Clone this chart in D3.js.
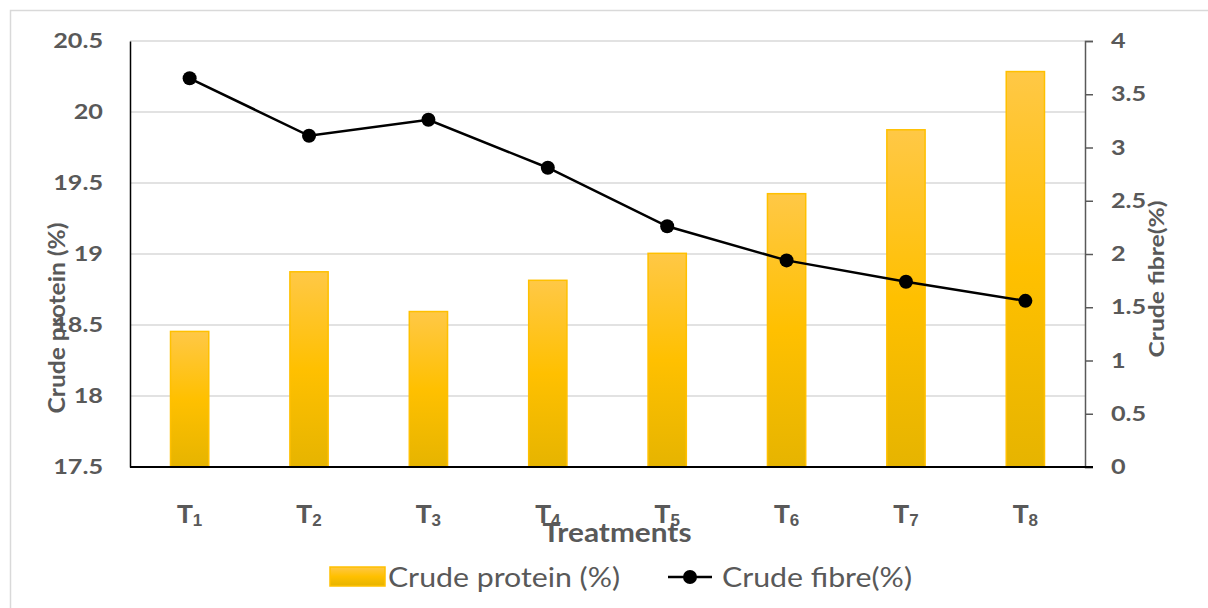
<!DOCTYPE html>
<html><head><meta charset="utf-8">
<script src="https://cdn.jsdelivr.net/npm/d3@7/dist/d3.min.js"></script>
<style>body{margin:0;background:#fff}svg{display:block;font-family:Lato,"Open Sans",sans-serif}</style>
</head><body>
<script>
const categories = ["1","2","3","4","5","6","7","8"];
const crudeProtein = [18.46, 18.88, 18.60, 18.82, 19.01, 19.43, 19.88, 20.29];
const crudeFibre = [3.65, 3.11, 3.26, 2.81, 2.26, 1.94, 1.74, 1.56];
const leftTicks = [17.5, 18, 18.5, 19, 19.5, 20, 20.5];
const rightTicks = [0, 0.5, 1, 1.5, 2, 2.5, 3, 3.5, 4];

const W = 1208, H = 608;
const m = {left:130, right:1085, top:41, bottom:467};
const svg = d3.select("body").append("svg").attr("width",W).attr("height",H);

function stretch(sel, f){
  sel.each(function(){
    const L = this.getComputedTextLength();
    d3.select(this).attr("textLength", L*f).attr("lengthAdjust","spacingAndGlyphs");
  });
}
function fitTo(sel, w){
  sel.attr("textLength", w).attr("lengthAdjust","spacingAndGlyphs");
}

svg.append("rect").attr("x",10.5).attr("y",10.5).attr("width",1205).attr("height",605)
  .attr("fill","#fff").attr("stroke","#d9d9d9").attr("stroke-width",1.5);

const x = d3.scaleBand().domain(categories).range([m.left,m.right]).paddingInner(0.667).paddingOuter(0.333);
const yL = d3.scaleLinear().domain([17.5,20.5]).range([m.bottom,m.top]);
const yR = d3.scaleLinear().domain([0,4]).range([m.bottom,m.top]);

const defs = svg.append("defs");
const g = defs.append("linearGradient").attr("id","barGrad").attr("x1",0).attr("y1",0).attr("x2",0).attr("y2",1);
g.append("stop").attr("offset","0%").attr("stop-color","#ffc846");
g.append("stop").attr("offset","50%").attr("stop-color","#ffc000");
g.append("stop").attr("offset","100%").attr("stop-color","#e6b400");

// gridlines
svg.append("g").selectAll("line").data(leftTicks.slice(1)).join("line")
  .attr("x1",m.left).attr("x2",m.right).attr("y1",d=>yL(d)).attr("y2",d=>yL(d))
  .attr("stroke","#d9d9d9").attr("stroke-width",1.5);

// bars
svg.append("g").selectAll("rect").data(crudeProtein).join("rect")
  .attr("x",(d,i)=>x(categories[i])+0.75).attr("width",x.bandwidth()-1.5)
  .attr("y",d=>yL(d)+0.75).attr("height",d=>yL(17.5)-yL(d)-0.75)
  .attr("fill","url(#barGrad)").attr("stroke","#ffc000").attr("stroke-width",1.5);

// left axis
const axL = d3.axisLeft(yL).tickValues(leftTicks).tickSize(0).tickPadding(27).tickFormat(d3.format(""));
const gl = svg.append("g").attr("transform",`translate(${m.left},0)`).call(axL);
gl.select(".domain").attr("stroke","#000").attr("stroke-width",1.5);
gl.selectAll("text").attr("font-size",21).attr("font-weight","bold").attr("fill","#595959").attr("font-family","Lato");
stretch(gl.selectAll("text"), 1.2);

// right axis
const axR = d3.axisRight(yR).tickValues(rightTicks).tickSize(8).tickPadding(18).tickFormat(d3.format(""));
const gr = svg.append("g").attr("transform",`translate(${m.right},0)`).call(axR);
gr.select(".domain").attr("stroke","#595959").attr("stroke-width",1.5);
gr.selectAll(".tick line").attr("stroke","#595959").attr("stroke-width",1.5);
gr.selectAll("text").attr("font-size",21).attr("font-weight","bold").attr("fill","#595959").attr("font-family","Lato");
stretch(gr.selectAll("text"), 1.2);

// bottom axis
const axB = d3.axisBottom(x).tickSize(0).tickFormat("");
const gb = svg.append("g").attr("transform",`translate(0,${m.bottom})`).call(axB);
gb.select(".domain").attr("stroke","#000").attr("stroke-width",2).attr("d",`M${m.left},0H${m.right+8}`);
gb.selectAll(".tick").append("text").attr("y",56).attr("text-anchor","middle")
  .attr("font-size",26).attr("font-weight","bold").attr("fill","#595959")
  .each(function(d){
    const t = d3.select(this);
    t.append("tspan").text("T");
    t.append("tspan").attr("font-size",17).attr("dy",3).text(d);
  });

// line
const line = d3.line().x((d,i)=>x(categories[i])+x.bandwidth()/2).y(d=>yR(d));
svg.append("path").datum(crudeFibre).attr("d",line).attr("fill","none").attr("stroke","#000").attr("stroke-width",2.5);
svg.append("g").selectAll("circle").data(crudeFibre).join("circle")
  .attr("cx",(d,i)=>x(categories[i])+x.bandwidth()/2).attr("cy",d=>yR(d)).attr("r",7).attr("fill","#000");

// axis titles
const tx = svg.append("text").attr("x",617).attr("y",542).attr("text-anchor","middle")
  .attr("font-size",27).attr("font-weight","bold").attr("fill","#595959").text("Treatments");
fitTo(tx,149);
const ty1 = svg.append("text").attr("transform","translate(65,318) rotate(-90)").attr("text-anchor","middle")
  .attr("font-size",22).attr("font-weight","bold").attr("fill","#595959").text("Crude protein (%)");
fitTo(ty1,191);
const ty2 = svg.append("text").attr("transform","translate(1164,279) rotate(-90)").attr("text-anchor","middle")
  .attr("font-size",21).attr("font-weight","bold").attr("fill","#595959").text("Crude fibre(%)");
fitTo(ty2,157);

// legend
const lg = svg.append("g");
lg.append("rect").attr("x",330).attr("y",567).attr("width",55).attr("height",19).attr("fill","url(#barGrad)").attr("stroke","#ffc000").attr("stroke-width",1.5);
const l1 = lg.append("text").attr("x",388).attr("y",587).attr("font-size",27).attr("fill","#595959").text("Crude protein (%)");
fitTo(l1,232);
lg.append("line").attr("x1",668).attr("x2",712).attr("y1",577).attr("y2",577).attr("stroke","#000").attr("stroke-width",2.5);
lg.append("circle").attr("cx",690).attr("cy",577).attr("r",7).attr("fill","#000");
const l2 = lg.append("text").attr("x",722).attr("y",587).attr("font-size",27).attr("fill","#595959").text("Crude fibre(%)");
fitTo(l2,190);
</script>
</body></html>
